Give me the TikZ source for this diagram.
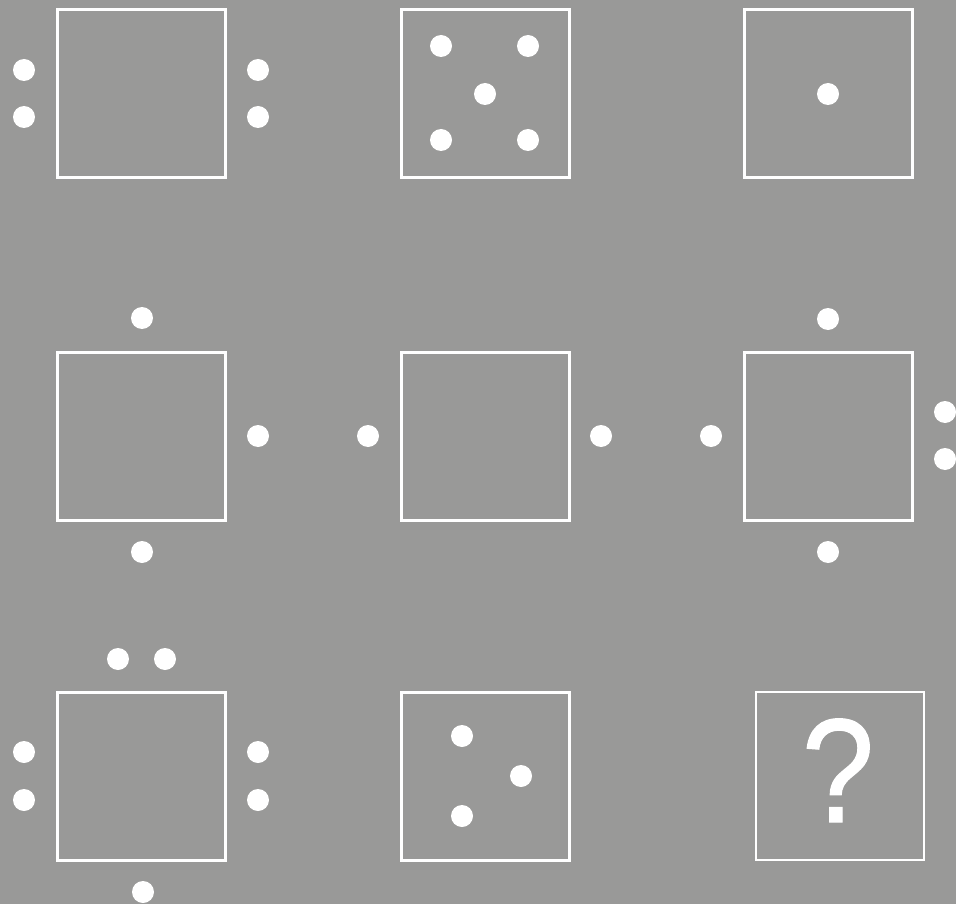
\documentclass[tikz,border=0pt]{standalone}
\usepackage{fontspec}
\setmainfont{Liberation Sans}
\newfontfamily\qfont[FakeBold=0.8]{Liberation Sans}
\definecolor{bg}{RGB}{153,153,152}
\begin{document}
\begin{tikzpicture}[x=1pt,y=-1pt,
  cell/.style={draw=white,line width=3pt,minimum width=168pt,minimum height=168pt,inner sep=0pt,outer sep=0pt},
  qcell/.style={draw=white,line width=2pt,minimum width=168pt,minimum height=168pt,inner sep=0pt,outer sep=0pt},
  dot/.style={circle,fill=white,minimum size=22pt,inner sep=0pt}]
\fill[bg] (0,0) rectangle (956,904);
\useasboundingbox (0,0) rectangle (956,904);
% boxes
\node[cell] (b11) at (141,94) {};
\node[cell] (b12) at (485,94) {};
\node[cell] (b13) at (828,94) {};
\node[cell] (b21) at (141,436) {};
\node[cell] (b22) at (485,436) {};
\node[cell] (b23) at (828,436) {};
\node[cell] (b31) at (141,776) {};
\node[cell] (b32) at (485,776) {};
\node[qcell] (b33) at (840,775.5) {};
\node[text=white,font=\qfont\fontsize{148}{148}\selectfont,inner sep=0pt,anchor=base,xscale=0.88] (q) at (838,822) {?};
% row 1
\node[dot] (d1) at (24,70) {};
\node[dot] (d2) at (24,117) {};
\node[dot] (d3) at (258,70) {};
\node[dot] (d4) at (258,117) {};
\node[dot] (d5) at (441,46) {};
\node[dot] (d6) at (528,46) {};
\node[dot] (d7) at (485,94) {};
\node[dot] (d8) at (441,140) {};
\node[dot] (d9) at (528,140) {};
\node[dot] (d10) at (828,94) {};
% row 2
\node[dot] (e1) at (142,318) {};
\node[dot] (e2) at (258,436) {};
\node[dot] (e3) at (142,552) {};
\node[dot] (e4) at (368,436) {};
\node[dot] (e5) at (601,436) {};
\node[dot] (e6) at (828,319) {};
\node[dot] (e7) at (711,436) {};
\node[dot] (e8) at (945,412) {};
\node[dot] (e9) at (945,459) {};
\node[dot] (e10) at (828,552) {};
% row 3
\node[dot] (f1) at (118,659) {};
\node[dot] (f2) at (165,659) {};
\node[dot] (f3) at (24,752) {};
\node[dot] (f4) at (24,800) {};
\node[dot] (f5) at (258,752) {};
\node[dot] (f6) at (258,800) {};
\node[dot] (f7) at (143,892) {};
\node[dot] (f8) at (462,736) {};
\node[dot] (f9) at (521,776) {};
\node[dot] (f10) at (462,816) {};
\end{tikzpicture}
\end{document}
